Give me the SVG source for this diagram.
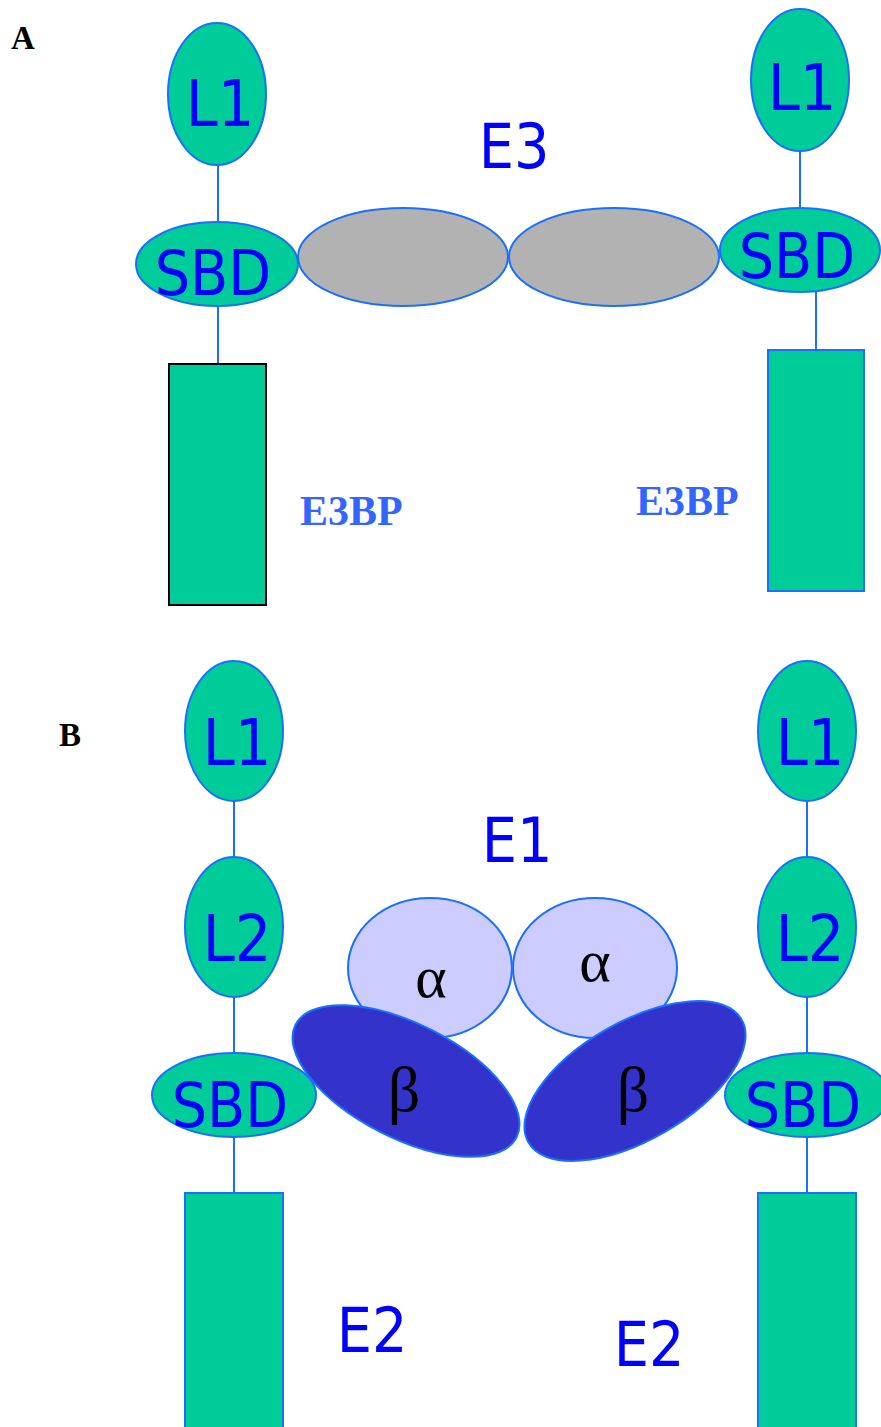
<svg xmlns="http://www.w3.org/2000/svg" width="881" height="1427" viewBox="0 0 881 1427">
  <style>
    .dom { fill: #00CC99; stroke: #1A6FFF; stroke-width: 2; }
    .e3 { fill: #B2B2B2; stroke: #1A6FFF; stroke-width: 2; }
    .alpha { fill: #CCCCFF; stroke: #1A6FFF; stroke-width: 2; }
    .beta { fill: #3333CC; stroke: #1A6FFF; stroke-width: 2; }
    .link { stroke: #1A6FFF; stroke-width: 2; fill: none; }
    .lbl { font-family: "DejaVu Sans", "Liberation Sans", sans-serif; font-stretch: condensed; fill: #0000FF; text-anchor: middle; }
    .big { font-size: 62px; }
    .panel { font-family: "Liberation Serif", serif; font-weight: bold; font-size: 33px; fill: #000000; }
    .e3bp { font-family: "Liberation Serif", serif; font-weight: bold; font-size: 42px; fill: #3366FF; }
    .greek { font-family: "Liberation Serif", serif; fill: #000000; text-anchor: middle; }
  </style>

  <!-- panel letters -->
  <text class="panel" x="11" y="49">A</text>
  <text class="panel" x="59" y="746">B</text>

  <!-- connectors -->
  <g id="connectors">
    <line class="link" x1="218" y1="165" x2="218" y2="222"/>
    <line class="link" x1="218" y1="306" x2="218" y2="364"/>
    <line class="link" x1="800" y1="151" x2="800" y2="208"/>
    <line class="link" x1="816" y1="292" x2="816" y2="350"/>
    <line class="link" x1="234" y1="801" x2="234" y2="857"/>
    <line class="link" x1="234" y1="997" x2="234" y2="1053"/>
    <line class="link" x1="234" y1="1137" x2="234" y2="1193"/>
    <line class="link" x1="807" y1="801" x2="807" y2="857"/>
    <line class="link" x1="807" y1="997" x2="807" y2="1053"/>
    <line class="link" x1="807" y1="1137" x2="807" y2="1193"/>
  </g>

  <!-- Panel A: E3 dimer bound by two E3BP chains -->
  <g id="e3">
    <ellipse class="e3" cx="403" cy="257" rx="105" ry="49"/>
    <ellipse class="e3" cx="614" cy="257" rx="105" ry="49"/>
    <text class="lbl big" x="514" y="168">E3</text>
  </g>
  <g id="a-left-l1">
    <ellipse class="dom" cx="217" cy="94" rx="49" ry="71"/>
    <text class="lbl" font-size="64" x="220" y="126">L1</text>
  </g>
  <g id="a-left-sbd">
    <ellipse class="dom" cx="217" cy="264" rx="81" ry="42"/>
    <text class="lbl big" x="213" y="295">SBD</text>
  </g>
  <g id="a-left-e3bp">
    <rect x="169" y="364" width="97" height="241" fill="#00CC99" stroke="#000000" stroke-width="2"/>
    <text class="e3bp" x="300" y="525">E3BP</text>
  </g>
  <g id="a-right-l1">
    <ellipse class="dom" cx="800" cy="80" rx="49" ry="71"/>
    <text class="lbl" font-size="64" x="802" y="110">L1</text>
  </g>
  <g id="a-right-sbd">
    <ellipse class="dom" cx="800" cy="250" rx="80" ry="42"/>
    <text class="lbl big" x="797" y="278">SBD</text>
  </g>
  <g id="a-right-e3bp">
    <rect class="dom" x="768" y="350" width="96" height="241"/>
    <text class="e3bp" x="636" y="515">E3BP</text>
  </g>

  <!-- Panel B: E1 heterotetramer bound by two E2 chains -->
  <g id="e1">
    <text class="lbl big" x="517" y="862">E1</text>
    <ellipse class="alpha" cx="430" cy="968" rx="82" ry="70"/>
    <ellipse class="alpha" cx="595" cy="968" rx="82" ry="70"/>
    <text class="greek" font-size="60" x="431" y="997">α</text>
    <text class="greek" font-size="60" x="595" y="981">α</text>
  </g>
  <g id="b-left-l1">
    <ellipse class="dom" cx="234" cy="731" rx="49" ry="70"/>
    <text class="lbl" font-size="64" x="237" y="765">L1</text>
  </g>
  <g id="b-left-l2">
    <ellipse class="dom" cx="234" cy="927" rx="49" ry="70"/>
    <text class="lbl" font-size="64" x="237" y="961">L2</text>
  </g>
  <g id="b-left-sbd">
    <ellipse class="dom" cx="234" cy="1095" rx="82" ry="42"/>
    <text class="lbl big" x="230" y="1127">SBD</text>
  </g>
  <g id="e1-beta-left">
    <ellipse class="beta" cx="406" cy="1081" rx="124" ry="57" transform="rotate(27 406 1081)"/>
    <text class="greek" font-size="64" x="404" y="1111">β</text>
  </g>
  <g id="e1-beta-right">
    <ellipse class="beta" cx="635" cy="1081" rx="123" ry="59" transform="rotate(-30 635 1081)"/>
    <text class="greek" font-size="64" x="633" y="1111">β</text>
  </g>
  <g id="b-right-l1">
    <ellipse class="dom" cx="807" cy="731" rx="49" ry="70"/>
    <text class="lbl" font-size="64" x="810" y="765">L1</text>
  </g>
  <g id="b-right-l2">
    <ellipse class="dom" cx="807" cy="927" rx="49" ry="70"/>
    <text class="lbl" font-size="64" x="810" y="961">L2</text>
  </g>
  <g id="b-right-sbd">
    <ellipse class="dom" cx="807" cy="1095" rx="82" ry="42"/>
    <text class="lbl big" x="803" y="1127">SBD</text>
  </g>
  <g id="b-left-e2">
    <rect class="dom" x="185" y="1193" width="98" height="240"/>
    <text class="lbl big" x="372" y="1352">E2</text>
  </g>
  <g id="b-right-e2">
    <rect class="dom" x="758" y="1193" width="98" height="240"/>
    <text class="lbl big" x="649" y="1366">E2</text>
  </g>
</svg>
